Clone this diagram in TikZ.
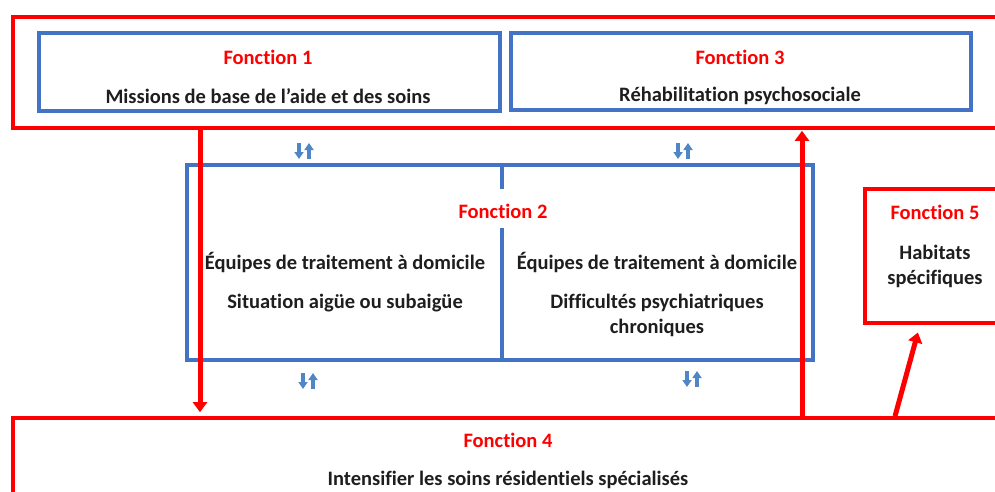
\documentclass[tikz,border=0pt]{standalone}
\usepackage{fontspec}
\setmainfont{Carlito}[Ligatures=NoCommon]
\usetikzlibrary{arrows.meta}
\definecolor{fonred}{HTML}{FF0000}
\definecolor{fonblue}{HTML}{4472C4}
\definecolor{fonarrow}{HTML}{4F86C6}
\definecolor{fontext}{HTML}{1E1E1E}

\begin{document}
\begin{tikzpicture}[
  x=1pt, y=-1pt,
  font=\fontsize{20.5}{24}\selectfont\bfseries,
  bbox/.style={draw=fonblue, line width=3.2pt, inner sep=0pt},
  rbox/.style={draw=fonred, line width=3.6pt, inner sep=0pt},
  ttl/.style={text=fonred, inner sep=0pt},
  txt/.style={text=fontext, inner sep=0pt},
  rarr/.style={draw=fonred, line width=5pt, -{Triangle[length=10pt,width=14pt]}},
  barr/.style={draw=fonarrow, line width=3.6pt, -{Triangle[length=7pt,width=9pt]}},
]
\useasboundingbox (0,0) rectangle (995,492);
\clip (0,0) rectangle (995,492);
% frames
\node[rbox, minimum width=992, minimum height=111] (f13) at (509,72.5) {};
\node[bbox, minimum width=461, minimum height=78]  (f1)  at (269.5,72) {};
\node[bbox, minimum width=460, minimum height=77]  (f3)  at (741,71.5) {};
\node[bbox, minimum width=626, minimum height=195] (f2)  at (500,262.5) {};
\node[rbox, minimum width=140, minimum height=134] (f5)  at (935,256) {};
\node[rbox, minimum width=992, minimum height=92]  (f4)  at (509,464) {};
% texts
\node[ttl] (t1) at (268,57)  {Fonction 1};
\node[txt] (m1) at (268,96)  {Missions de base de l’aide et des soins};
\node[ttl] (t3) at (740,57)  {Fonction 3};
\node[txt] (m3) at (740,96)  {Réhabilitation psychosociale};
\node[ttl] (t2) at (503,211) {Fonction 2};
\node[txt] (a1) at (345,263) {Équipes de traitement à domicile};
\node[txt] (a2) at (345,303) {Situation aigüe ou subaigüe};
\node[txt] (b1) at (657,263) {Équipes de traitement à domicile};
\node[txt] (b2) at (657,303) {Difficultés psychiatriques};
\node[txt] (b3) at (657,328) {chroniques};
\node[ttl] (t5) at (935,212) {Fonction 5};
\node[txt] (h1) at (935,252) {Habitats};
\node[txt] (h2) at (935,279) {spécifiques};
\node[ttl] (t4) at (508,440) {Fonction 4};
\node[txt] (m4) at (508,480) {Intensifier les soins résidentiels spécialisés};
% split of function 2
\coordinate (dv) at (502,0);
\draw[fonblue, line width=3.2pt] (f2.north -| dv) -- (502,189) (502,228) -- (f2.south -| dv);
% small two-way arrows
\foreach \x/\y in {304/151, 683/151, 308/381, 692/379} {
  \draw[barr] (\x-5,\y-8) -- (\x-5,\y+8);
  \draw[barr] (\x+5,\y+8) -- (\x+5,\y-8);
}
% links between functions
\coordinate (dn) at (200,0);
\coordinate (up) at (802,0);
\coordinate (sl) at (895,0);
\coordinate (c5) at (920,0);
\draw[rarr, shorten >=4pt] (f13.south -| dn) -- (f4.north -| dn);
\draw[rarr, shorten >=1pt] (f4.north -| up) -- (f13.south -| up);
\draw[rarr, shorten >=8pt] (f4.north -| sl) -- (f5.south -| c5);
\end{tikzpicture}
\end{document}
